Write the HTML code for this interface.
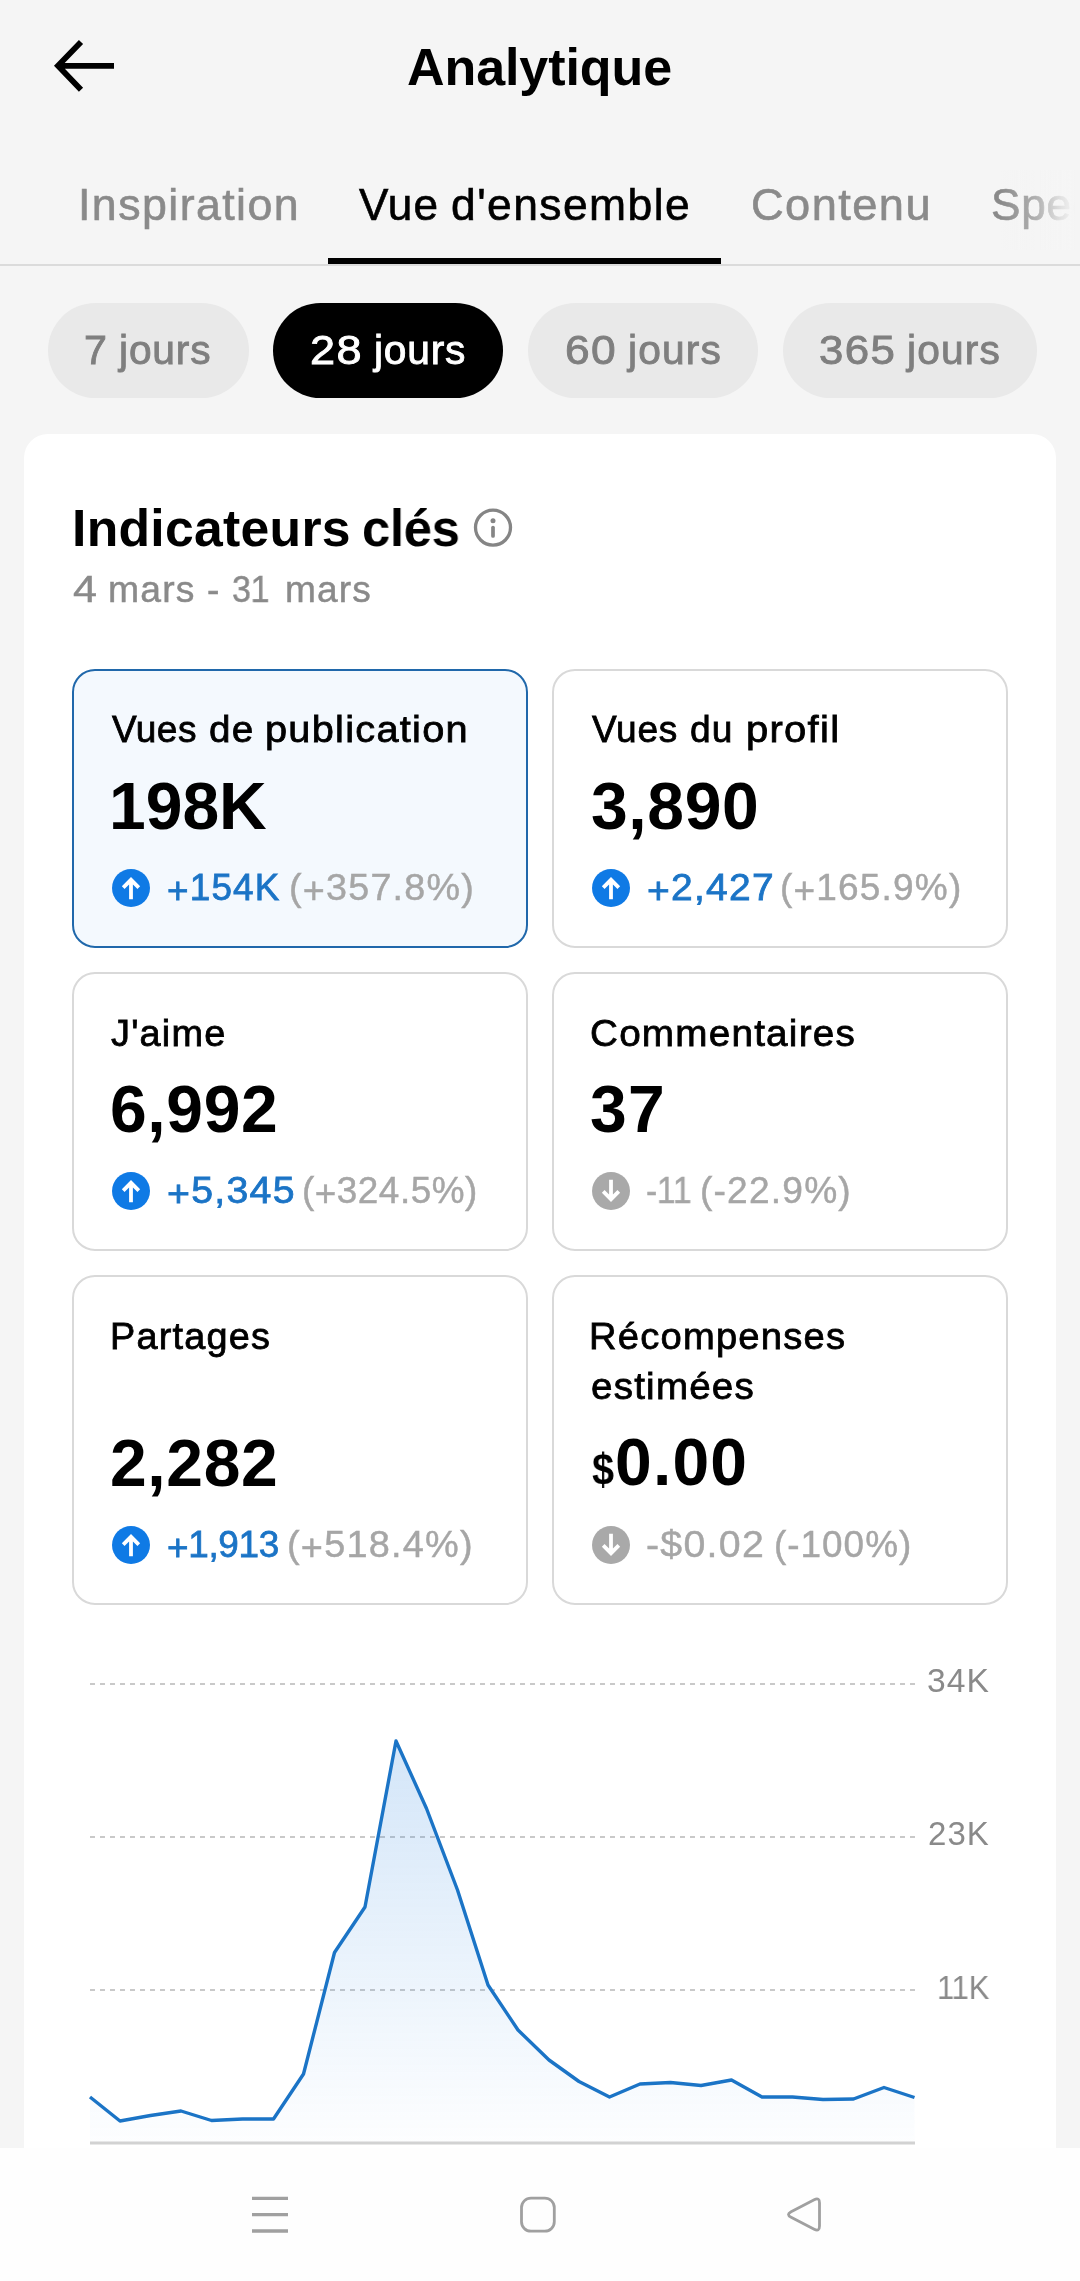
<!DOCTYPE html>
<html lang="fr"><head><meta charset="utf-8"><title>Analytique</title>
<style>
*{margin:0;padding:0;box-sizing:border-box}
html,body{width:1080px;height:2281px;overflow:hidden}
body{position:relative;background:#f5f5f5;font-family:"Liberation Sans", sans-serif;}
.t{position:absolute;line-height:1;white-space:nowrap;will-change:transform}
.t i{font-style:normal;position:relative;top:.08em}
.abs{position:absolute}
.pill{position:absolute;top:302.8px;height:95.5px;border-radius:48px;background:#e9e9e9}
.pill.on{background:#000}
.panel{position:absolute;left:24px;top:434px;width:1032px;height:1847px;background:#fff;border-radius:24px 24px 0 0}
.stat{position:absolute;width:456px;border:2px solid #d9d9d9;border-radius:23px;background:#fff}
.stat.sel{border-color:#2068ab;background:#f4f9fe}
.nav{position:absolute;left:0;top:2148px;width:1080px;height:133px;background:#fefefe}
svg{position:absolute;left:0;top:0;overflow:visible}
</style></head><body>
<header>
<svg width="1080" height="130" viewBox="0 0 1080 130"><path d="M81 41.9L58 65.8L81 89.7M58 65.8H114" fill="none" stroke="#000" stroke-width="5.8"/></svg>
<h1><span class="t" style="left:406.69px;top:41.48px;font-size:52px;font-weight:700;color:#000;letter-spacing:-0.079px;">Analytique</span></h1>
</header>
<nav class="tabs">
<span class="t" style="left:77.52px;top:183.03px;font-size:44.13px;font-weight:400;color:#8a8a8a;letter-spacing:1.412px;-webkit-text-stroke:0.62px;transform:scaleX(1.0136);transform-origin:0 0;">Inspiration</span>
<span class="t" style="left:359.21px;top:183.03px;font-size:44.13px;font-weight:400;color:#000;letter-spacing:1.043px;-webkit-text-stroke:0.62px;">Vue</span> <span class="t" style="left:451.12px;top:183.03px;font-size:44.13px;font-weight:400;color:#000;letter-spacing:1.412px;-webkit-text-stroke:0.62px;transform:scaleX(1.0069);transform-origin:0 0;">d'ensemble</span>
<span class="t" style="left:750.70px;top:183.03px;font-size:44.13px;font-weight:400;color:#8a8a8a;letter-spacing:1.412px;-webkit-text-stroke:0.62px;transform:scaleX(1.0240);transform-origin:0 0;">Contenu</span>
<span class="t" style="left:990.93px;top:183.03px;font-size:44.13px;font-weight:400;color:#8a8a8a;letter-spacing:0.800px;-webkit-text-stroke:0.62px;">Spectateurs</span>
<div class="abs" style="left:1000px;top:170px;width:80px;height:80px;background:linear-gradient(90deg,rgba(245,245,245,0) 0%,rgba(245,245,245,.35) 44%,rgba(245,245,245,.8) 75%,#f5f5f5 94%)"></div>
<div class="abs" style="left:0;top:264px;width:1080px;height:2px;background:#dbdbdb"></div>
<div class="abs" style="left:328px;top:258px;width:393px;height:6px;background:#000"></div>
</nav>
<section class="ranges">
<div class="pill" style="left:48px;width:201px"></div>
<div class="pill on" style="left:273px;width:230px"></div>
<div class="pill" style="left:528px;width:230px"></div>
<div class="pill" style="left:783px;width:254px"></div>
<div><span class="t" style="left:84.10px;top:330.38px;font-size:40.74px;font-weight:400;color:#7f7f7f;letter-spacing:0.000px;-webkit-text-stroke:0.86px;transform:scaleX(1.0122);transform-origin:0 0;">7</span> <span class="t" style="left:119.20px;top:330.38px;font-size:40.74px;font-weight:400;color:#7f7f7f;letter-spacing:0.834px;-webkit-text-stroke:0.86px;">jours</span></div><div><span class="t" style="left:309.56px;top:330.38px;font-size:40.74px;font-weight:400;color:#fff;letter-spacing:1.304px;-webkit-text-stroke:0.86px;transform:scaleX(1.1066);transform-origin:0 0;">28</span> <span class="t" style="left:374.30px;top:330.38px;font-size:40.74px;font-weight:400;color:#fff;letter-spacing:0.759px;-webkit-text-stroke:0.86px;">jours</span></div><div><span class="t" style="left:564.59px;top:330.38px;font-size:40.74px;font-weight:400;color:#7f7f7f;letter-spacing:1.304px;-webkit-text-stroke:0.86px;transform:scaleX(1.0885);transform-origin:0 0;">60</span> <span class="t" style="left:628.40px;top:330.38px;font-size:40.74px;font-weight:400;color:#7f7f7f;letter-spacing:1.134px;-webkit-text-stroke:0.86px;">jours</span></div><div><span class="t" style="left:819.49px;top:330.38px;font-size:40.74px;font-weight:400;color:#7f7f7f;letter-spacing:1.304px;-webkit-text-stroke:0.86px;transform:scaleX(1.0757);transform-origin:0 0;">365</span> <span class="t" style="left:907.30px;top:330.38px;font-size:40.74px;font-weight:400;color:#7f7f7f;letter-spacing:1.134px;-webkit-text-stroke:0.86px;">jours</span></div>
</section>
<main class="panel"></main>
<h2><span class="t" style="left:71.97px;top:502.74px;font-size:51.7px;font-weight:700;color:#000;letter-spacing:0.281px;">Indicateurs</span> <span class="t" style="left:362.11px;top:502.74px;font-size:51.7px;font-weight:700;color:#000;letter-spacing:-0.300px;transform:scaleX(0.9811);transform-origin:0 0;">clés</span></h2>
<svg width="1080" height="600" viewBox="0 0 1080 600"><circle cx="493" cy="527.6" r="17.5" fill="none" stroke="#858585" stroke-width="3.3"/><circle cx="493" cy="520.7" r="2.5" fill="#858585"/><path d="M493 527.6V536" stroke="#858585" stroke-width="3.7" stroke-linecap="round"/></svg>
<p><span class="t" style="left:72.91px;top:571.92px;font-size:36.67px;font-weight:400;color:#8a8a8a;letter-spacing:0.000px;-webkit-text-stroke:0.48px;transform:scaleX(1.1760);transform-origin:0 0;">4</span> <span class="t" style="left:108.31px;top:571.92px;font-size:36.67px;font-weight:400;color:#8a8a8a;letter-spacing:1.173px;-webkit-text-stroke:0.48px;transform:scaleX(1.0177);transform-origin:0 0;">mars</span> <span class="t" style="left:207.18px;top:571.92px;font-size:36.67px;font-weight:400;color:#8a8a8a;letter-spacing:0.000px;-webkit-text-stroke:0.48px;transform:scaleX(1.0176);transform-origin:0 0;">-</span> <span class="t" style="left:232.46px;top:571.92px;font-size:36.67px;font-weight:400;color:#8a8a8a;letter-spacing:-0.300px;-webkit-text-stroke:0.48px;transform:scaleX(0.9286);transform-origin:0 0;">31</span> <span class="t" style="left:284.63px;top:571.92px;font-size:36.67px;font-weight:400;color:#8a8a8a;letter-spacing:1.173px;-webkit-text-stroke:0.48px;transform:scaleX(1.0104);transform-origin:0 0;">mars</span></p>
<div class="stat sel" style="left:72px;top:669px;height:279px"></div>
<span class="t" style="left:111.99px;top:711.25px;font-size:37.05px;font-weight:400;color:#000;letter-spacing:0.468px;-webkit-text-stroke:0.78px;">Vues</span> <span class="t" style="left:209.00px;top:711.25px;font-size:37.05px;font-weight:400;color:#000;letter-spacing:1.186px;-webkit-text-stroke:0.78px;transform:scaleX(1.0415);transform-origin:0 0;">de</span> <span class="t" style="left:265.04px;top:711.25px;font-size:37.05px;font-weight:400;color:#000;letter-spacing:1.186px;-webkit-text-stroke:0.78px;transform:scaleX(1.0724);transform-origin:0 0;">publication</span>
<span class="t" style="left:109.17px;top:773.13px;font-size:66px;font-weight:700;color:#000;letter-spacing:-0.010px;">198K</span>
<span class="t" style="left:166.66px;top:869.91px;font-size:36.86px;font-weight:400;color:#1b74c6;letter-spacing:1.180px;-webkit-text-stroke:0.77px;transform:scaleX(1.0002);transform-origin:0 0;"><i>+</i>154K</span><span class="t" style="left:289.46px;top:870.08px;font-size:36.86px;font-weight:400;color:#a6a6a6;letter-spacing:1.180px;-webkit-text-stroke:0.44px;transform:scaleX(1.0230);transform-origin:0 0;">(<i>+</i>357.8%)</span>
<div class="stat" style="left:552px;top:669px;height:279px"></div>
<span class="t" style="left:591.64px;top:711.25px;font-size:37.05px;font-weight:400;color:#000;letter-spacing:0.768px;-webkit-text-stroke:0.78px;">Vues</span> <span class="t" style="left:690.48px;top:711.25px;font-size:37.05px;font-weight:400;color:#000;letter-spacing:1.186px;-webkit-text-stroke:0.78px;transform:scaleX(1.0015);transform-origin:0 0;">du</span> <span class="t" style="left:745.92px;top:711.25px;font-size:37.05px;font-weight:400;color:#000;letter-spacing:1.186px;-webkit-text-stroke:0.78px;transform:scaleX(1.0790);transform-origin:0 0;">profil</span>
<span class="t" style="left:591.37px;top:773.13px;font-size:66px;font-weight:700;color:#000;letter-spacing:0.636px;">3,890</span>
<span class="t" style="left:646.58px;top:869.91px;font-size:36.86px;font-weight:400;color:#1b74c6;letter-spacing:1.180px;-webkit-text-stroke:0.77px;transform:scaleX(1.0579);transform-origin:0 0;"><i>+</i>2,427</span><span class="t" style="left:780.49px;top:870.08px;font-size:36.86px;font-weight:400;color:#a6a6a6;letter-spacing:1.180px;-webkit-text-stroke:0.44px;transform:scaleX(1.0038);transform-origin:0 0;">(<i>+</i>165.9%)</span>
<div class="stat" style="left:72px;top:972px;height:279px"></div>
<span class="t" style="left:111.21px;top:1014.75px;font-size:37.05px;font-weight:400;color:#000;letter-spacing:1.186px;-webkit-text-stroke:0.78px;transform:scaleX(1.0223);transform-origin:0 0;">J'aime</span>
<span class="t" style="left:110.34px;top:1076.13px;font-size:66px;font-weight:700;color:#000;letter-spacing:0.636px;">6,992</span>
<span class="t" style="left:166.57px;top:1172.91px;font-size:36.86px;font-weight:400;color:#1b74c6;letter-spacing:1.180px;-webkit-text-stroke:0.77px;transform:scaleX(1.0656);transform-origin:0 0;"><i>+</i>5,345</span><span class="t" style="left:302.09px;top:1173.08px;font-size:36.86px;font-weight:400;color:#a6a6a6;letter-spacing:0.513px;-webkit-text-stroke:0.44px;">(<i>+</i>324.5%)</span>
<div class="stat" style="left:552px;top:972px;height:279px"></div>
<span class="t" style="left:590.00px;top:1014.75px;font-size:37.05px;font-weight:400;color:#000;letter-spacing:1.186px;-webkit-text-stroke:0.78px;transform:scaleX(1.0428);transform-origin:0 0;">Commentaires</span>
<span class="t" style="left:590.47px;top:1076.13px;font-size:66px;font-weight:700;color:#000;letter-spacing:1.294px;">37</span>
<span class="t" style="left:645.65px;top:1173.08px;font-size:36.86px;font-weight:400;color:#a6a6a6;letter-spacing:-0.300px;-webkit-text-stroke:0.44px;transform:scaleX(0.9113);transform-origin:0 0;">-11</span><span class="t" style="left:699.98px;top:1173.08px;font-size:36.86px;font-weight:400;color:#a6a6a6;letter-spacing:1.180px;-webkit-text-stroke:0.44px;transform:scaleX(1.0075);transform-origin:0 0;">(-22.9%)</span>
<div class="stat" style="left:72px;top:1275px;height:330px"></div>
<span class="t" style="left:109.84px;top:1317.75px;font-size:37.05px;font-weight:400;color:#000;letter-spacing:1.186px;-webkit-text-stroke:0.78px;transform:scaleX(1.0208);transform-origin:0 0;">Partages</span>
<span class="t" style="left:110.34px;top:1430.13px;font-size:66px;font-weight:700;color:#000;letter-spacing:0.636px;">2,282</span>
<span class="t" style="left:166.66px;top:1526.91px;font-size:36.86px;font-weight:400;color:#1b74c6;letter-spacing:-0.300px;-webkit-text-stroke:0.77px;transform:scaleX(0.9999);transform-origin:0 0;"><i>+</i>1,913</span><span class="t" style="left:287.35px;top:1527.08px;font-size:36.86px;font-weight:400;color:#a6a6a6;letter-spacing:1.180px;-webkit-text-stroke:0.44px;transform:scaleX(1.0275);transform-origin:0 0;">(<i>+</i>518.4%)</span>
<div class="stat" style="left:552px;top:1275px;height:330px"></div>
<span class="t" style="left:588.82px;top:1317.75px;font-size:37.05px;font-weight:400;color:#000;letter-spacing:1.186px;-webkit-text-stroke:0.78px;transform:scaleX(1.0293);transform-origin:0 0;">Récompenses</span>
<span class="t" style="left:590.50px;top:1367.75px;font-size:37.05px;font-weight:400;color:#000;letter-spacing:1.186px;-webkit-text-stroke:0.78px;transform:scaleX(1.0399);transform-origin:0 0;">estimées</span>
<span class="t" style="left:591.70px;top:1449.18px;font-size:43.5px;font-weight:700;color:#000;letter-spacing:0.000px;transform:scaleX(0.9080);transform-origin:0 0;">$</span><span class="t" style="left:614.64px;top:1429.13px;font-size:66px;font-weight:700;color:#000;letter-spacing:1.194px;">0.00</span>
<span class="t" style="left:646.31px;top:1527.08px;font-size:36.86px;font-weight:400;color:#a6a6a6;letter-spacing:1.180px;-webkit-text-stroke:0.44px;transform:scaleX(1.0665);transform-origin:0 0;">-$0.02</span><span class="t" style="left:774.49px;top:1527.08px;font-size:36.86px;font-weight:400;color:#a6a6a6;letter-spacing:1.016px;-webkit-text-stroke:0.44px;">(-100%)</span>
<svg width="1080" height="2281" viewBox="0 0 1080 2281"><circle cx="131" cy="888" r="19" fill="#0f7ae5"/><path d="M131 899.3V880 M123.2 887.6L131 879.8L138.8 887.6" fill="none" stroke="#fff" stroke-width="3.8"/><circle cx="611" cy="888" r="19" fill="#0f7ae5"/><path d="M611 899.3V880 M603.2 887.6L611 879.8L618.8 887.6" fill="none" stroke="#fff" stroke-width="3.8"/><circle cx="131" cy="1191" r="19" fill="#0f7ae5"/><path d="M131 1202.3V1183 M123.2 1190.6L131 1182.8L138.8 1190.6" fill="none" stroke="#fff" stroke-width="3.8"/><circle cx="611" cy="1191" r="19" fill="#a9a9a9"/><path d="M611 1179.7V1199 M603.2 1191.4L611 1199.2L618.8 1191.4" fill="none" stroke="#fff" stroke-width="3.8"/><circle cx="131" cy="1545" r="19" fill="#0f7ae5"/><path d="M131 1556.3V1537 M123.2 1544.6L131 1536.8L138.8 1544.6" fill="none" stroke="#fff" stroke-width="3.8"/><circle cx="611" cy="1545" r="19" fill="#a9a9a9"/><path d="M611 1533.7V1553 M603.2 1545.4L611 1553.2L618.8 1545.4" fill="none" stroke="#fff" stroke-width="3.8"/>
<defs><linearGradient id="g" x1="0" y1="1741" x2="0" y2="2143" gradientUnits="userSpaceOnUse"><stop offset="0" stop-color="#2f86e0" stop-opacity=".21"/><stop offset="1" stop-color="#2f86e0" stop-opacity="0.01"/></linearGradient></defs>
<g stroke="#c9c9c9" stroke-width="2" stroke-dasharray="5 5"><path d="M90 1684H915"/><path d="M90 1837H915"/><path d="M90 1990H915"/></g>
<path d="M90 2097 L120 2121 L150.5 2115.5 L181 2111 L211.5 2120.5 L242.5 2119 L273.5 2119 L303.5 2074 L334.5 1952.5 L365 1907 L396 1741 L426.5 1808.5 L457.5 1890 L488 1985 L518 2030 L549 2060 L579 2081.5 L609.5 2097 L640 2084 L670.5 2082.5 L701 2085.5 L731.5 2080 L762 2097 L792.5 2097 L823 2099.5 L853.5 2099 L884 2087.5 L914.5 2097.5 L914.5 2143 L90 2143 Z" fill="url(#g)"/>
<path d="M90 2143H915" stroke="#d2d2d2" stroke-width="3"/>
<path d="M90 2097 L120 2121 L150.5 2115.5 L181 2111 L211.5 2120.5 L242.5 2119 L273.5 2119 L303.5 2074 L334.5 1952.5 L365 1907 L396 1741 L426.5 1808.5 L457.5 1890 L488 1985 L518 2030 L549 2060 L579 2081.5 L609.5 2097 L640 2084 L670.5 2082.5 L701 2085.5 L731.5 2080 L762 2097 L792.5 2097 L823 2099.5 L853.5 2099 L884 2087.5 L914.5 2097.5" fill="none" stroke="#1b74c6" stroke-width="3.4" stroke-linejoin="round"/>
</svg>
<span class="t" style="left:927.25px;top:1665.29px;font-size:32.5px;font-weight:400;color:#8a8a8a;letter-spacing:1.040px;transform:scaleX(1.0351);transform-origin:0 0;">34K</span><span class="t" style="left:928.45px;top:1818.49px;font-size:32.5px;font-weight:400;color:#8a8a8a;letter-spacing:1.040px;transform:scaleX(1.0166);transform-origin:0 0;">23K</span><span class="t" style="left:937.06px;top:1971.99px;font-size:32.5px;font-weight:400;color:#8a8a8a;letter-spacing:-0.300px;transform:scaleX(0.9536);transform-origin:0 0;">11K</span>
<footer class="nav"></footer>
<svg width="1080" height="2281" viewBox="0 0 1080 2281"><g fill="none" stroke="#a0a0a0" stroke-width="2.8">
<path d="M252 2198.3H288M252 2214.7H288M252 2231H288" stroke-width="3.3"/>
<rect x="521.5" y="2198.1" width="32.8" height="33.1" rx="9.5"/>
<path d="M814.2 2199.7Q819.5 2196.9 819.5 2202.9L819.5 2226.1Q819.5 2232.1 814.2 2229.3L791.1 2217.3Q785.8 2214.5 791.1 2211.7Z"/>
</g></svg>
</body></html>
